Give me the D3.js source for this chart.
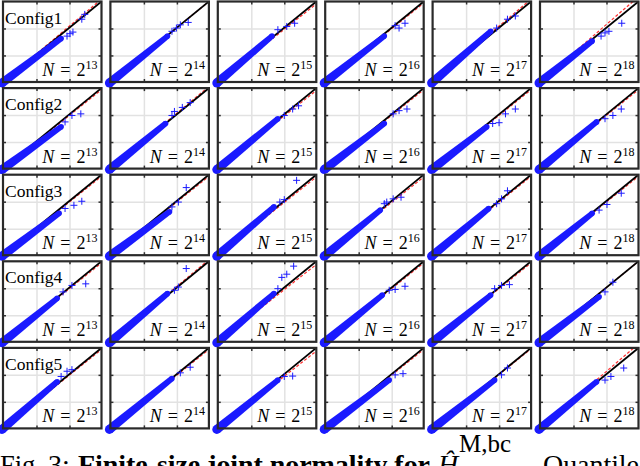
<!DOCTYPE html>
<meta charset="utf-8">
<script src="https://d3js.org/d3.v7.min.js"></script>
<style>
  body { margin: 0; background: #fff; }
  svg { display: block; }
</style>
<div id="my_dataviz"></div>
<script>
  // labels
  var configs = ["Config1", "Config2", "Config3", "Config4", "Config5"];
  var exponents = [13, 14, 15, 16, 17, 18];

  // grid / tick positions (fraction of the normalised quantile range)
  var gridX = [0.34, 0.675];
  var gridY = [0.33, 0.665];

  // where the dense part of the Q-Q cloud ends, per config (rows) and N (cols)
  var bandEnds = [
    [[0.59, 0.54], [0.58, 0.57], [0.55, 0.57], [0.60, 0.57], [0.59, 0.63], [0.53, 0.51]],
    [[0.59, 0.52], [0.56, 0.56], [0.61, 0.62], [0.60, 0.56], [0.55, 0.52], [0.575, 0.58]],
    [[0.57, 0.52], [0.60, 0.54], [0.57, 0.60], [0.56, 0.56], [0.57, 0.58], [0.53, 0.52]],
    [[0.55, 0.54], [0.58, 0.60], [0.57, 0.60], [0.58, 0.58], [0.59, 0.58], [0.60, 0.56]],
    [[0.55, 0.58], [0.625, 0.62], [0.61, 0.60], [0.65, 0.60], [0.63, 0.60], [0.575, 0.58]]
  ];

  // sparse upper-tail quantiles
  var tails = [
    [
      [[0.65, 0.57], [0.71, 0.62], [0.68, 0.60], [0.80, 0.78], [0.83, 0.84]],
      [[0.625, 0.63], [0.67, 0.67], [0.71, 0.71], [0.79, 0.74]],
      [[0.61, 0.65], [0.70, 0.69], [0.78, 0.73]],
      [[0.71, 0.70], [0.75, 0.67], [0.81, 0.73]],
      [[0.65, 0.67], [0.76, 0.78], [0.84, 0.82]],
      [[0.62, 0.57], [0.66, 0.61], [0.70, 0.63], [0.83, 0.73]]
    ],
    [
      [[0.63, 0.58], [0.70, 0.66], [0.79, 0.68]],
      [[0.625, 0.66], [0.65, 0.71], [0.73, 0.76], [0.81, 0.82]],
      [[0.675, 0.66], [0.76, 0.74], [0.82, 0.78]],
      [[0.69, 0.68], [0.75, 0.72], [0.83, 0.74]],
      [[0.61, 0.56], [0.675, 0.57], [0.74, 0.68], [0.84, 0.74]],
      [[0.66, 0.62], [0.74, 0.66], [0.825, 0.74]]
    ],
    [
      [[0.63, 0.58], [0.72, 0.62], [0.80, 0.67]],
      [[0.625, 0.60], [0.69, 0.66], [0.77, 0.84]],
      [[0.63, 0.66], [0.675, 0.69], [0.80, 0.93]],
      [[0.60, 0.64], [0.625, 0.66], [0.69, 0.70], [0.77, 0.72]],
      [[0.65, 0.64], [0.70, 0.70], [0.76, 0.80]],
      [[0.60, 0.56], [0.68, 0.63], [0.825, 0.77]]
    ],
    [
      [[0.61, 0.62], [0.70, 0.70], [0.84, 0.72]],
      [[0.65, 0.64], [0.69, 0.68], [0.77, 0.91]],
      [[0.61, 0.66], [0.65, 0.80], [0.70, 0.84], [0.77, 0.94]],
      [[0.65, 0.64], [0.71, 0.65], [0.81, 0.69]],
      [[0.63, 0.66], [0.70, 0.70], [0.78, 0.71]],
      [[0.66, 0.62], [0.74, 0.74]]
    ],
    [
      [[0.59, 0.645], [0.65, 0.71], [0.70, 0.73]],
      [[0.71, 0.69], [0.81, 0.76]],
      [[0.675, 0.645], [0.76, 0.65]],
      [[0.71, 0.665], [0.79, 0.68]],
      [[0.70, 0.665], [0.76, 0.75]],
      [[0.66, 0.60], [0.72, 0.645], [0.85, 0.75]]
    ]
  ];

  // height of the red fitted line at the right edge
  var redTops = [
    [1.03, 1.00, 0.97, 0.98, 1.03, 1.06],
    [0.98, 1.02, 0.97, 0.98, 0.98, 0.98],
    [0.98, 0.98, 0.97, 0.97, 0.98, 0.98],
    [0.98, 1.02, 0.96, 0.98, 0.98, 1.00],
    [0.98, 0.98, 0.96, 0.98, 0.99, 1.05]
  ];

  var W = 640, H = 466;
  var panelW = 98.5, panelH = 80.5;
  var colStep = 107.4, rowStep = 86.6;
  var left0 = 3, top0 = 1.5;
  var blue = "#1a1aff";
  var serif = "'Liberation Serif', 'Times New Roman', serif";

  var svg = d3.select("#my_dataviz")
    .append("svg")
      .attr("width", W)
      .attr("height", H);

  var x = d3.scaleLinear().domain([0, 1]).range([0, panelW]);
  var y = d3.scaleLinear().domain([0, 1]).range([panelH, 0]);

  configs.forEach(function(cfg, r) {
    exponents.forEach(function(ex, c) {
      var g = svg.append("g")
        .attr("transform", "translate(" + (left0 + c * colStep) + "," + (top0 + r * rowStep) + ")");

      var clipId = "clip" + r + "_" + c;
      g.append("clipPath").attr("id", clipId)
        .append("rect").attr("width", panelW).attr("height", panelH);

      // grid lines
      g.append("g")
        .attr("transform", "translate(0," + panelH + ")")
        .call(d3.axisBottom(x).tickValues(gridX).tickSize(-panelH).tickFormat(""))
        .call(function(a) { a.select(".domain").remove(); })
        .selectAll("line").attr("stroke", "#e2e2e2").attr("stroke-width", 1.5);
      g.append("g")
        .call(d3.axisLeft(y).tickValues(gridY).tickSize(-panelW).tickFormat(""))
        .call(function(a) { a.select(".domain").remove(); })
        .selectAll("line").attr("stroke", "#e2e2e2").attr("stroke-width", 1.5);

      // inward ticks on all four sides
      var tk = [
        [d3.axisBottom(x).tickValues(gridX), "translate(0," + panelH + ")"],
        [d3.axisTop(x).tickValues(gridX), "translate(0,0)"],
        [d3.axisLeft(y).tickValues(gridY), "translate(0,0)"],
        [d3.axisRight(y).tickValues(gridY), "translate(" + panelW + ",0)"]
      ];
      tk.forEach(function(t) {
        g.append("g")
          .attr("transform", t[1])
          .call(t[0].tickSize(-3).tickFormat(""))
          .call(function(a) { a.select(".domain").remove(); })
          .selectAll("line").attr("stroke", "#333").attr("stroke-width", 1.5);
      });

      var lines = g.append("g").attr("clip-path", "url(#" + clipId + ")");

      // red dashed fit line
      lines.append("line")
        .attr("x1", x(0)).attr("y1", y(0))
        .attr("x2", x(1)).attr("y2", y(redTops[r][c]))
        .attr("stroke", "#ff3030")
        .attr("stroke-width", 1.2)
        .attr("stroke-dasharray", "3,2");

      // black reference line
      lines.append("line")
        .attr("x1", x(0)).attr("y1", y(0))
        .attr("x2", x(1)).attr("y2", y(1))
        .attr("stroke", "#000")
        .attr("stroke-width", 1.8);

      // dense band of '+' markers, drawn as a tapered stroke
      var e = bandEnds[r][c];
      var x0 = x(0) - 1, y0 = y(0) + 1, x1 = x(e[0]), y1 = y(e[1]);
      var len = Math.hypot(x1 - x0, y1 - y0);
      var nx = -(y1 - y0) / len, ny = (x1 - x0) / len;
      var w0 = 4.5, w1 = 2.8;
      g.append("path")
        .attr("d", "M" + (x0 + nx * w0) + "," + (y0 + ny * w0) +
                   "L" + (x1 + nx * w1) + "," + (y1 + ny * w1) +
                   "L" + (x1 - nx * w1) + "," + (y1 - ny * w1) +
                   "L" + (x0 - nx * w0) + "," + (y0 - ny * w0) + "Z")
        .attr("fill", blue);
      g.append("circle").attr("cx", x0).attr("cy", y0).attr("r", w0).attr("fill", blue);
      g.append("circle").attr("cx", x1).attr("cy", y1).attr("r", w1).attr("fill", blue);

      // tail markers
      g.selectAll("path.tail")
        .data(tails[r][c])
        .enter()
        .append("path")
          .attr("class", "tail")
          .attr("transform", function(d) { return "translate(" + x(d[0]) + "," + y(d[1]) + ")"; })
          .attr("d", "M-3.5,0H3.5M0,-3.5V3.5")
          .attr("stroke", blue)
          .attr("stroke-width", 1);

      // box
      g.append("rect")
        .attr("width", panelW).attr("height", panelH)
        .attr("fill", "none")
        .attr("stroke", "#2a2a2a")
        .attr("stroke-width", 2.2);

      // labels
      if (c === 0) {
        g.append("text")
          .attr("x", 2).attr("y", 22)
          .style("font-family", serif)
          .style("font-size", "17.5px")
          .text(cfg);
      }
      var nt = g.append("text")
        .attr("x", panelW - 4).attr("y", panelH - 6)
        .attr("text-anchor", "end")
        .style("font-family", serif)
        .style("font-size", "18px");
      nt.append("tspan").style("font-style", "italic").text("N");
      nt.append("tspan").attr("dx", 6).text("=");
      nt.append("tspan").attr("dx", 6).text("2");
      nt.append("tspan").attr("dy", -7).style("font-size", "12px").text(ex);
    });
  });

  // caption (cut off by the image bottom, as in the figure)
  var cap = svg.append("g").style("font-family", serif).style("font-size", "28px");
  cap.append("text").attr("x", 0).attr("y", 474)
    .attr("textLength", 42).attr("lengthAdjust", "spacingAndGlyphs")
    .text("Fig.");
  cap.append("text").attr("x", 48).attr("y", 474).text("3:");
  cap.append("text").attr("x", 78).attr("y", 474)
    .style("font-weight", "bold")
    .attr("textLength", 352).attr("lengthAdjust", "spacing")
    .text("Finite-size joint normality for");
  cap.append("text").attr("x", 438).attr("y", 474)
    .style("font-style", "italic").text("\u0124");
  cap.append("text").attr("x", 459).attr("y", 452).style("font-size", "25px")
    .text("M,bc");
  cap.append("text").attr("x", 526).attr("y", 474).text(".");
  cap.append("text").attr("x", 543).attr("y", 474)
    .attr("textLength", 96).attr("lengthAdjust", "spacing")
    .text("Quantile");
</script>
